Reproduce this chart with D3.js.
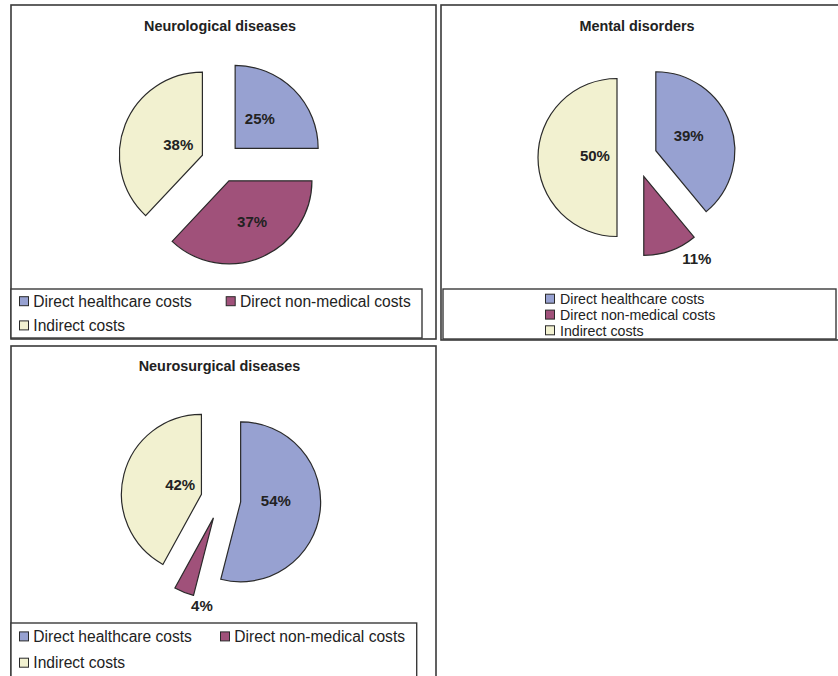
<!DOCTYPE html>
<html>
<head>
<meta charset="utf-8">
<script src="https://cdn.jsdelivr.net/npm/d3@7/dist/d3.min.js"></script>
<style>
  html, body { margin: 0; padding: 0; background: #fff; }
  svg { display: block; font-family: "Liberation Sans", Arial, Helvetica, sans-serif; }
</style>
</head>
<body>
<svg id="chart" width="838" height="676"></svg>
<script>
// Cost categories shared by all three pies
const categories = ["Direct healthcare costs", "Direct non-medical costs", "Indirect costs"];
const categoryColors = ["#97a1d1", "#a0517a", "#f2f1d0"];

// Share of total cost (%) per disease group
const neurologicalValues = [25, 37, 38];
const mentalValues = [39, 11, 50];
const neurosurgicalValues = [54, 4, 42];

const chartTitles = ["Neurological diseases", "Mental disorders", "Neurosurgical diseases"];

// Layout of each panel: frame, pie placement, label placement, legend arrangement
const panels = [
  {
    title: chartTitles[0], values: neurologicalValues,
    frame: { x: 11, y: 5, w: 425, h: 334 }, titleX: 220, titleY: 31,
    cx: 221, cy: 162.5, r: 83, explode: 20,
    labelK: [0.47, 0.56, 0.32], labelDa: [-5.7, -6.5, 2.9],
    legendBox: { x: 11, y: 289, w: 411, h: 49 },
    legend: { cols: [19, 225.7], rows: [306.5, 330.7], gap: 14.3, fontSize: 15.6 }
  },
  {
    title: chartTitles[1], values: mentalValues,
    frame: { x: 441, y: 5, w: 400, h: 335 }, titleX: 637, titleY: 31,
    cx: 637, cy: 157.5, r: 79, explode: 20,
    labelK: [0.46, 1.24, 0.28], labelDa: [-5.5, -13, 3.9],
    legendBox: { x: 443, y: 289, w: 393, h: 50 },
    legend: { cols: [545], rows: [304, 319.9, 335.6], gap: 15, single: true, fontSize: 14.2 }
  },
  {
    title: chartTitles[2], values: neurosurgicalValues,
    frame: { x: 11, y: 346, w: 425, h: 345 }, titleX: 219.5, titleY: 370.7,
    cx: 220.8, cy: 499.3, r: 80, explode: 20,
    labelK: [0.44, 1.10, 0.29], labelDa: [-8.5, -14.1, 9.1],
    legendBox: { x: 11, y: 623, w: 405.7, h: 70 },
    legend: { cols: [19, 220], rows: [641.7, 668], gap: 14.3, fontSize: 15.6 }
  }
];

const svg = d3.select("#chart");
const color = d3.scaleOrdinal().domain(categories).range(categoryColors);
const pie = d3.pie().sort(null).value(d => d.value);
const toRad = Math.PI / 180;

panels.forEach(p => {
  const g = svg.append("g");

  // Panel frame
  g.append("rect")
    .attr("x", p.frame.x).attr("y", p.frame.y)
    .attr("width", p.frame.w).attr("height", p.frame.h)
    .attr("fill", "#fff").attr("stroke", "#3a3a3a").attr("stroke-width", 1.6);

  // Title
  g.append("text")
    .attr("x", p.titleX).attr("y", p.titleY)
    .attr("text-anchor", "middle")
    .attr("font-size", 14.4).attr("font-weight", "bold").attr("fill", "#222")
    .text(p.title);

  const data = categories.map((c, i) => ({ category: c, value: p.values[i] }));
  const arcs = pie(data);
  const arc = d3.arc().innerRadius(0).outerRadius(p.r);

  const pieG = g.append("g").attr("transform", `translate(${p.cx},${p.cy})`);

  // Exploded slices, each pushed out along its bisector
  const slice = pieG.selectAll("g.slice").data(arcs).join("g")
    .attr("class", "slice")
    .attr("transform", d => {
      const mid = (d.startAngle + d.endAngle) / 2;
      return `translate(${Math.sin(mid) * p.explode},${-Math.cos(mid) * p.explode})`;
    });

  slice.append("path")
    .attr("d", arc)
    .attr("fill", d => color(d.data.category))
    .attr("stroke", "#2a2a2a").attr("stroke-width", 1.2)
    .attr("stroke-linejoin", "miter");

  // Percentage labels
  slice.append("text")
    .attr("transform", (d, i) => {
      const a = (d.startAngle + d.endAngle) / 2 + p.labelDa[i] * toRad;
      const rr = p.labelK[i] * p.r;
      return `translate(${Math.sin(a) * rr},${-Math.cos(a) * rr})`;
    })
    .attr("text-anchor", "middle").attr("dy", "0.36em")
    .attr("font-size", 15).attr("font-weight", "bold").attr("fill", "#222")
    .text(d => d.data.value + "%");

  // Legend
  g.append("rect")
    .attr("x", p.legendBox.x).attr("y", p.legendBox.y)
    .attr("width", p.legendBox.w).attr("height", p.legendBox.h)
    .attr("fill", "#fff").attr("stroke", "#3a3a3a").attr("stroke-width", 1.4);

  const L = p.legend;
  const items = categories.map((c, i) => {
    const col = L.single ? 0 : i % L.cols.length;
    const row = L.single ? i : Math.floor(i / L.cols.length);
    return { c, x: L.cols[col], y: L.rows[row] };
  });

  const li = g.selectAll("g.legend-item").data(items).join("g")
    .attr("class", "legend-item")
    .attr("transform", d => `translate(${d.x},${d.y})`);

  li.append("rect")
    .attr("x", 0.5).attr("y", -9.8)
    .attr("width", 9).attr("height", 9)
    .attr("fill", d => color(d.c))
    .attr("stroke", "#2a2a2a").attr("stroke-width", 1);

  li.append("text")
    .attr("x", L.gap).attr("y", 0)
    .attr("font-size", L.fontSize).attr("fill", "#222")
    .text(d => d.c);
});
</script>
</body>
</html>
